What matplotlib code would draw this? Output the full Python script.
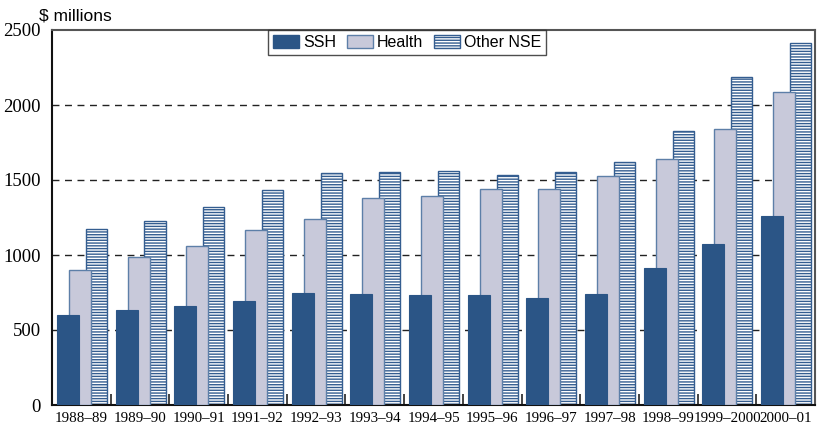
import numpy as np
import matplotlib
matplotlib.use("Agg")
import matplotlib.pyplot as plt
from matplotlib.patches import Patch
from matplotlib.ticker import FixedLocator

years = ["1988\u201389", "1989\u201390", "1990\u201391", "1991\u201392", "1992\u201393",
         "1993\u201394", "1994\u201395", "1995\u201396", "1996\u201397", "1997\u201398",
         "1998\u201399", "1999\u20132000", "2000\u201301"]
ssh = [600, 633, 660, 696, 744, 737, 732, 732, 713, 738, 911, 1073, 1258]
health = [900, 987, 1058, 1164, 1238, 1378, 1393, 1438, 1442, 1527, 1642, 1838, 2087]
other_nse = [1173, 1227, 1320, 1433, 1544, 1553, 1558, 1531, 1551, 1622, 1829, 2187, 2413]

dark_blue = "#2b5586"
light = "#c8c9da"
edge_blue = "#345d90"
health_edge = "#5d7fa8"

serif = ["Liberation Serif", "DejaVu Serif"]
sans = ["Liberation Sans", "DejaVu Sans"]

plt.rcParams["hatch.linewidth"] = 1.0
plt.rcParams["hatch.color"] = edge_blue

fig = plt.figure(figsize=(8.23, 4.28), dpi=100)
ax = fig.add_axes([52 / 823, 23 / 428, 763 / 823, 375 / 428])

x = np.arange(len(years))
ax.bar(x + 0.255, other_nse, width=0.36, color="white", edgecolor=edge_blue,
       hatch="------", linewidth=1.0, zorder=2)
ax.bar(x - 0.025, health, width=0.375, color=light, edgecolor=health_edge,
       linewidth=1.0, zorder=3)
ax.bar(x - 0.23, ssh, width=0.375, color=dark_blue, edgecolor=dark_blue,
       linewidth=0.8, zorder=4)

ax.set_xlim(-0.5, len(years) - 0.5)
ax.set_ylim(0, 2500)
ax.set_yticks([0, 500, 1000, 1500, 2000, 2500])
ax.set_xticks(x)
ax.set_xticklabels(years, fontfamily=serif, fontsize=10.8)
ax.tick_params(axis="x", which="major", length=0, pad=5)
ax.xaxis.set_minor_locator(FixedLocator(x[:-1] + 0.5))
ax.tick_params(axis="x", which="minor", direction="in", length=8, width=1.2, color="#222222")
ax.tick_params(axis="y", length=0, pad=8)
for lbl in ax.get_yticklabels():
    lbl.set_fontfamily(serif)
    lbl.set_fontsize(13.5)

for v in [500, 1000, 1500, 2000]:
    ax.axhline(v, color="#222222", linestyle=(0, (5, 4)), linewidth=1.0, zorder=1)

for side in ["left", "bottom"]:
    ax.spines[side].set_color("#111111")
    ax.spines[side].set_linewidth(1.5)
for side in ["top", "right"]:
    ax.spines[side].set_color("#555555")
    ax.spines[side].set_linewidth(1.5)

fig.text(39 / 823, 1 - 16 / 428, "$ millions", fontfamily=sans, fontsize=12.5,
         va="center", ha="left")

handles = [
    Patch(facecolor=dark_blue, edgecolor=dark_blue, label="SSH"),
    Patch(facecolor=light, edgecolor=health_edge, label="Health"),
    Patch(facecolor="white", edgecolor=edge_blue, hatch="------", label="Other NSE"),
]
leg = fig.legend(handles=handles, loc="upper center", bbox_to_anchor=(407 / 823, 1 - 30 / 428),
                 ncol=3, frameon=True, fancybox=False, shadow=False,
                 prop={"family": sans, "size": 11.5}, handlelength=1.6, handleheight=0.85,
                 handletextpad=0.25, columnspacing=0.7, borderpad=0.3, borderaxespad=0)
leg.get_frame().set_edgecolor("#222222")
leg.get_frame().set_linewidth(1.0)
leg.set_zorder(10)

fig.savefig("out.png", dpi=100)
